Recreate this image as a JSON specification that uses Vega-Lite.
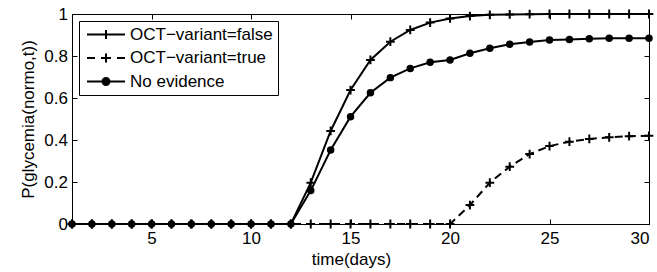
{
  "$schema": "https://vega.github.io/schema/vega-lite/v6.json",
  "width": 577,
  "height": 210,
  "autosize": "none",
  "padding": {"left": 72, "top": 14, "right": 8, "bottom": 48},
  "background": "white",
  "config": {
    "view": {"stroke": "black", "strokeWidth": 1},
    "font": "Liberation Sans",
    "axis": {
      "grid": false,
      "domainColor": "black",
      "tickColor": "black",
      "labelColor": "black",
      "titleColor": "black",
      "labelFont": "Liberation Sans",
      "titleFont": "Liberation Sans",
      "labelFontSize": 17,
      "titleFontSize": 17,
      "titleFontWeight": "normal",
      "tickSize": -5,
      "domainWidth": 1,
      "tickWidth": 1
    }
  },
  "data": {
    "values": [
      {"t": 1, "series": "OCT−variant=false", "p": 0},
      {"t": 2, "series": "OCT−variant=false", "p": 0},
      {"t": 3, "series": "OCT−variant=false", "p": 0},
      {"t": 4, "series": "OCT−variant=false", "p": 0},
      {"t": 5, "series": "OCT−variant=false", "p": 0},
      {"t": 6, "series": "OCT−variant=false", "p": 0},
      {"t": 7, "series": "OCT−variant=false", "p": 0},
      {"t": 8, "series": "OCT−variant=false", "p": 0},
      {"t": 9, "series": "OCT−variant=false", "p": 0},
      {"t": 10, "series": "OCT−variant=false", "p": 0},
      {"t": 11, "series": "OCT−variant=false", "p": 0},
      {"t": 12, "series": "OCT−variant=false", "p": 0},
      {"t": 13, "series": "OCT−variant=false", "p": 0.197},
      {"t": 14, "series": "OCT−variant=false", "p": 0.443},
      {"t": 15, "series": "OCT−variant=false", "p": 0.638},
      {"t": 16, "series": "OCT−variant=false", "p": 0.781},
      {"t": 17, "series": "OCT−variant=false", "p": 0.868},
      {"t": 18, "series": "OCT−variant=false", "p": 0.924},
      {"t": 19, "series": "OCT−variant=false", "p": 0.959},
      {"t": 20, "series": "OCT−variant=false", "p": 0.979},
      {"t": 21, "series": "OCT−variant=false", "p": 0.99},
      {"t": 22, "series": "OCT−variant=false", "p": 0.996},
      {"t": 23, "series": "OCT−variant=false", "p": 0.998},
      {"t": 24, "series": "OCT−variant=false", "p": 0.999},
      {"t": 25, "series": "OCT−variant=false", "p": 1},
      {"t": 26, "series": "OCT−variant=false", "p": 1},
      {"t": 27, "series": "OCT−variant=false", "p": 1},
      {"t": 28, "series": "OCT−variant=false", "p": 1},
      {"t": 29, "series": "OCT−variant=false", "p": 1},
      {"t": 30, "series": "OCT−variant=false", "p": 1},
      {"t": 1, "series": "OCT−variant=true", "p": 0},
      {"t": 2, "series": "OCT−variant=true", "p": 0},
      {"t": 3, "series": "OCT−variant=true", "p": 0},
      {"t": 4, "series": "OCT−variant=true", "p": 0},
      {"t": 5, "series": "OCT−variant=true", "p": 0},
      {"t": 6, "series": "OCT−variant=true", "p": 0},
      {"t": 7, "series": "OCT−variant=true", "p": 0},
      {"t": 8, "series": "OCT−variant=true", "p": 0},
      {"t": 9, "series": "OCT−variant=true", "p": 0},
      {"t": 10, "series": "OCT−variant=true", "p": 0},
      {"t": 11, "series": "OCT−variant=true", "p": 0},
      {"t": 12, "series": "OCT−variant=true", "p": 0},
      {"t": 13, "series": "OCT−variant=true", "p": 0},
      {"t": 14, "series": "OCT−variant=true", "p": 0},
      {"t": 15, "series": "OCT−variant=true", "p": 0},
      {"t": 16, "series": "OCT−variant=true", "p": 0},
      {"t": 17, "series": "OCT−variant=true", "p": 0},
      {"t": 18, "series": "OCT−variant=true", "p": 0},
      {"t": 19, "series": "OCT−variant=true", "p": 0},
      {"t": 20, "series": "OCT−variant=true", "p": 0},
      {"t": 21, "series": "OCT−variant=true", "p": 0.09},
      {"t": 22, "series": "OCT−variant=true", "p": 0.197},
      {"t": 23, "series": "OCT−variant=true", "p": 0.273},
      {"t": 24, "series": "OCT−variant=true", "p": 0.333},
      {"t": 25, "series": "OCT−variant=true", "p": 0.371},
      {"t": 26, "series": "OCT−variant=true", "p": 0.392},
      {"t": 27, "series": "OCT−variant=true", "p": 0.405},
      {"t": 28, "series": "OCT−variant=true", "p": 0.413},
      {"t": 29, "series": "OCT−variant=true", "p": 0.418},
      {"t": 30, "series": "OCT−variant=true", "p": 0.42},
      {"t": 1, "series": "No evidence", "p": 0},
      {"t": 2, "series": "No evidence", "p": 0},
      {"t": 3, "series": "No evidence", "p": 0},
      {"t": 4, "series": "No evidence", "p": 0},
      {"t": 5, "series": "No evidence", "p": 0},
      {"t": 6, "series": "No evidence", "p": 0},
      {"t": 7, "series": "No evidence", "p": 0},
      {"t": 8, "series": "No evidence", "p": 0},
      {"t": 9, "series": "No evidence", "p": 0},
      {"t": 10, "series": "No evidence", "p": 0},
      {"t": 11, "series": "No evidence", "p": 0},
      {"t": 12, "series": "No evidence", "p": 0},
      {"t": 13, "series": "No evidence", "p": 0.159},
      {"t": 14, "series": "No evidence", "p": 0.352},
      {"t": 15, "series": "No evidence", "p": 0.511},
      {"t": 16, "series": "No evidence", "p": 0.625},
      {"t": 17, "series": "No evidence", "p": 0.697},
      {"t": 18, "series": "No evidence", "p": 0.741},
      {"t": 19, "series": "No evidence", "p": 0.77},
      {"t": 20, "series": "No evidence", "p": 0.781},
      {"t": 21, "series": "No evidence", "p": 0.813},
      {"t": 22, "series": "No evidence", "p": 0.837},
      {"t": 23, "series": "No evidence", "p": 0.856},
      {"t": 24, "series": "No evidence", "p": 0.867},
      {"t": 25, "series": "No evidence", "p": 0.876},
      {"t": 26, "series": "No evidence", "p": 0.879},
      {"t": 27, "series": "No evidence", "p": 0.882},
      {"t": 28, "series": "No evidence", "p": 0.884},
      {"t": 29, "series": "No evidence", "p": 0.885},
      {"t": 30, "series": "No evidence", "p": 0.885}
    ]
  },
  "layer": [
    {
      "transform": [{"filter": "datum.series !== 'OCT−variant=true'"}],
      "mark": {"type": "line", "stroke": "black", "strokeWidth": 2},
      "encoding": {
        "x": {
          "field": "t",
          "type": "quantitative",
          "scale": {"domain": [1, 30], "nice": false, "zero": false},
          "axis": {"orient": "bottom", "values": [5, 10, 15, 20, 25, 30], "title": "time(days)", "labelPadding": 11.5, "titlePadding": 5, "titleX": 279}
        },
        "y": {
          "field": "p",
          "type": "quantitative",
          "scale": {"domain": [0, 1], "nice": false},
          "axis": {"orient": "left", "values": [0, 0.2, 0.4, 0.6, 0.8, 1], "labelExpr": "'' + datum.value", "title": "P(glycemia(normo,t))", "labelPadding": 9.5, "titlePadding": 6}
        },
        "detail": {"field": "series"}
      }
    },
    {
      "transform": [{"filter": "datum.series === 'OCT−variant=true'"}],
      "mark": {"type": "line", "stroke": "black", "strokeWidth": 2, "strokeDash": [8, 5]},
      "encoding": {
        "x": {"field": "t", "type": "quantitative", "scale": {"domain": [1, 30], "nice": false, "zero": false}, "axis": null},
        "y": {"field": "p", "type": "quantitative", "scale": {"domain": [0, 1], "nice": false}, "axis": null}
      }
    },
    {
      "mark": {"type": "point", "filled": true, "fill": "black", "stroke": "black", "strokeWidth": 2, "opacity": 1, "size": 30},
      "encoding": {
        "x": {
          "field": "t",
          "type": "quantitative",
          "scale": {"domain": [1, 30], "nice": false, "zero": false},
          "axis": {"orient": "top", "values": [5, 10, 15, 20, 25, 30], "labels": false, "title": null, "domain": false}
        },
        "y": {
          "field": "p",
          "type": "quantitative",
          "scale": {"domain": [0, 1], "nice": false},
          "axis": {"orient": "right", "values": [0, 0.2, 0.4, 0.6, 0.8, 1], "labels": false, "title": null, "domain": false}
        },
        "shape": {
          "field": "series",
          "type": "nominal",
          "scale": {
            "domain": ["OCT−variant=false", "OCT−variant=true", "No evidence"],
            "range": ["M-1.6,0H1.6M0,-1.6V1.6", "M-1.6,0H1.6M0,-1.6V1.6", "circle"]
          },
          "legend": null
        }
      }
    },
    {
      "transform": [{"filter": "datum.t < 0"}],
      "mark": {"type": "point", "filled": false, "fill": "black", "stroke": "black", "strokeWidth": 2, "opacity": 1},
      "encoding": {
        "x": {"field": "t", "type": "quantitative", "scale": {"domain": [1, 30], "nice": false, "zero": false}, "axis": null},
        "y": {"field": "p", "type": "quantitative", "scale": {"domain": [0, 1], "nice": false}, "axis": null},
        "shape": {
          "field": "series",
          "type": "nominal",
          "scale": {
            "domain": ["OCT−variant=false", "OCT−variant=true", "No evidence"],
            "range": [
              "M-3.8,0H3.8M0,-0.9V0.9",
              "M-3.8,0H-2.2M-1,0H1M2.2,0H3.8M0,-0.9V0.9",
              "M-3.8,0H3.8M0.7,0A0.7,0.7,0,1,1,-0.7,0A0.7,0.7,0,1,1,0.7,0Z"
            ]
          },
          "legend": {
            "orient": "top-left",
            "offset": 7,
            "title": null,
            "direction": "vertical",
            "strokeColor": "black",
            "fillColor": "white",
            "padding": 5,
            "labelFont": "Liberation Sans",
            "labelFontSize": 17,
            "labelColor": "black",
            "symbolSize": 100,
            "symbolOffset": 13.5,
            "labelOffset": 15.5,
            "rowPadding": 5.5,
            "symbolStrokeWidth": 2,
            "symbolOpacity": 1,
            "encode": {
              "legend": {
                "stroke": {"value": "black"},
                "strokeWidth": {"value": 1},
                "fill": {"value": "white"}
              }
            }
          }
        }
      }
    }
  ],
  "resolve": {
    "scale": {"x": "independent", "y": "independent", "shape": "independent"},
    "axis": {"x": "independent", "y": "independent"}
  }
}
